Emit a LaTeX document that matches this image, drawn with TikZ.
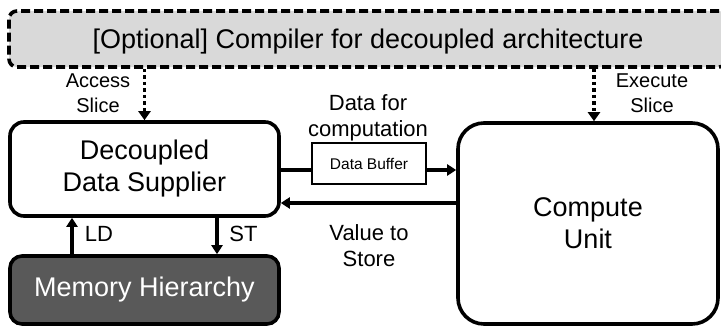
\documentclass[tikz,border=0pt]{standalone}
\usepackage{fontspec}
\setmainfont{Liberation Sans}
\usetikzlibrary{arrows.meta}
\definecolor{titlegray}{HTML}{D9D9D9}
\definecolor{memgray}{HTML}{595959}
\begin{document}
\begin{tikzpicture}[x=1pt,y=-1pt,
  box/.style={draw, line width=3.6pt, align=center, inner sep=0pt,
    font=\fontsize{27}{32}\selectfont},
  lbl/.style={align=center, inner sep=0pt},
  lblsmall/.style={lbl, font=\fontsize{20}{25}\selectfont},
  lblmid/.style={lbl, font=\fontsize{22}{26.5}\selectfont},
  arr/.style={line width=3.3pt, -{Triangle[length=9pt,width=11pt]}},
  plain/.style={line width=3.3pt},
  dotarrow/.style={line width=3.6pt, dash pattern=on 3.5pt off 3pt, -{Triangle[length=9pt,width=12pt]}}
]
\clip (0,0) rectangle (721,327);
% boxes
\node[box, fill=titlegray, dash pattern=on 9pt off 4pt, rounded corners=8pt,
  minimum width=718pt, minimum height=56pt, text height=19.3pt, text depth=0pt]
  (comp) at (368,39) {[Optional] Compiler for decoupled architecture};
\node[box, rounded corners=14pt, minimum width=269pt, minimum height=94pt]
  (dds) at (144.5,169) {Decoupled\\Data Supplier};
\node[box, rounded corners=26pt, minimum width=260pt, minimum height=201pt]
  (cu) at (588,223.5) {Compute\\Unit};
\node[box, rounded corners=12pt, fill=memgray, text=white, minimum width=269pt, minimum height=68pt]
  (mem) at (144.5,290) {Memory Hierarchy};
\node[draw, line width=1.6pt, inner sep=0pt, minimum width=114pt, minimum height=41pt,
  font=\fontsize{15.5}{18}\selectfont]
  (buf) at (369,163.5) {Data Buffer};
% labels
\node[lblsmall] (accl) at (98,93.3) {Access\\Slice};
\node[lblsmall] (exel) at (652,93.3) {Execute\\Slice};
\node[lblmid] (dfc) at (368,117.7) {Data for\\computation};
\node[lblmid] (vts) at (369,245.4) {Value to\\Store};
\node[lblmid] (ldl) at (99,234) {LD};
\node[lblmid] (stl) at (243.5,234) {ST};
% helper coordinates
\coordinate (ex) at (594,0);
\coordinate (r1) at (0,170);
\coordinate (r2) at (0,203);
\coordinate (ld) at (72,0);
\coordinate (st) at (217,0);
% connectors
\draw[dotarrow] (dds.north |- comp.south) -- (dds.north);
\draw[dotarrow] (ex |- comp.south) -- (ex |- cu.north);
\draw[plain] (dds.east |- r1) -- (buf.west |- r1);
\draw[arr] (buf.east |- r1) -- (cu.west |- r1);
\draw[arr] (cu.west |- r2) -- (dds.east |- r2);
\draw[arr] (ld |- mem.north) -- (ld |- dds.south);
\draw[arr] (st |- dds.south) -- (st |- mem.north);
\end{tikzpicture}
\end{document}
